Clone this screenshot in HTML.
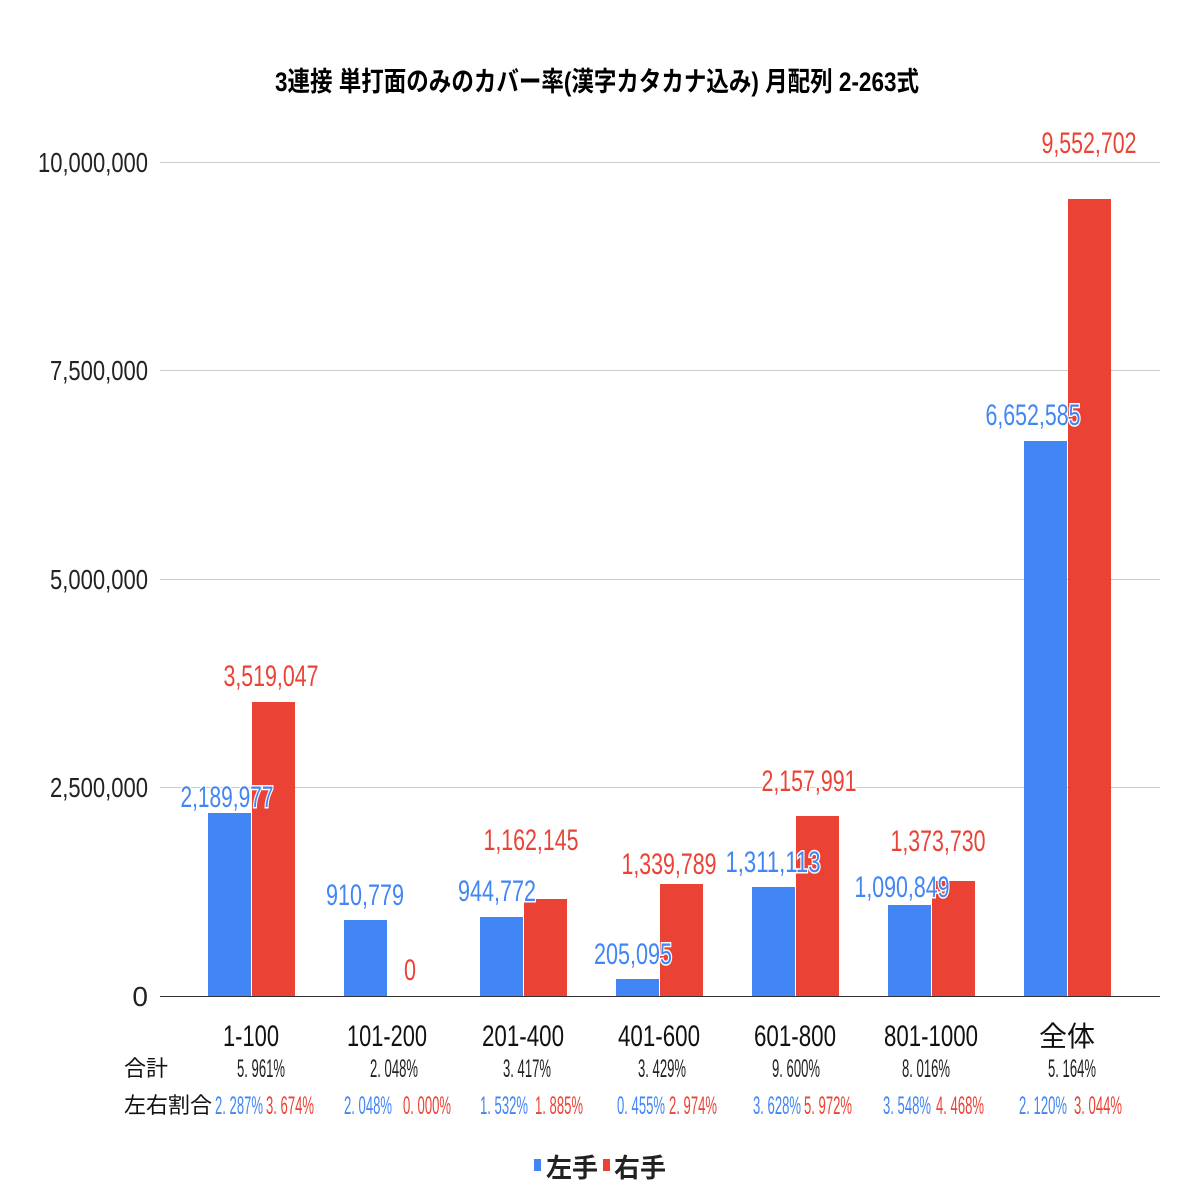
<!DOCTYPE html>
<html><head><meta charset="utf-8"><style>
html,body{margin:0;padding:0;background:#fff;}
svg text{font-family:"Liberation Sans Narrow","Liberation Sans","Noto Sans CJK JP",sans-serif;}
.j{font-family:"Liberation Sans","Noto Sans CJK JP",sans-serif !important;}
</style></head><body>
<svg width="1196" height="1196" xmlns="http://www.w3.org/2000/svg">
<rect width="1196" height="1196" fill="#fff"/>
<text x="597" y="91" text-anchor="middle" font-size="27" font-weight="bold" class="j" textLength="644" lengthAdjust="spacingAndGlyphs">3連接 単打面のみのカバー率(漢字カタカナ込み) 月配列 2-263式</text>
<g stroke="#ccc" stroke-width="1">
<line x1="160" y1="162.5" x2="1160" y2="162.5"/>
<line x1="160" y1="370.5" x2="1160" y2="370.5"/>
<line x1="160" y1="579.5" x2="1160" y2="579.5"/>
<line x1="160" y1="787.5" x2="1160" y2="787.5"/>
</g>
<g font-size="28" fill="#222" text-anchor="end">
<text x="148" y="172" textLength="110" lengthAdjust="spacingAndGlyphs">10,000,000</text>
<text x="148" y="380" textLength="98" lengthAdjust="spacingAndGlyphs">7,500,000</text>
<text x="148" y="589" textLength="98" lengthAdjust="spacingAndGlyphs">5,000,000</text>
<text x="148" y="797" textLength="98" lengthAdjust="spacingAndGlyphs">2,500,000</text>
<text x="148" y="1006">0</text>
</g>
<g fill="#4285f4">
<rect x="208" y="813" width="43" height="183"/>
<rect x="344" y="920" width="43" height="76"/>
<rect x="480" y="917" width="43" height="79"/>
<rect x="616" y="979" width="43" height="17"/>
<rect x="752" y="887" width="43" height="109"/>
<rect x="888" y="905" width="43" height="91"/>
<rect x="1024" y="441" width="43" height="555"/>
</g>
<g fill="#ea4335">
<rect x="252" y="702" width="43" height="294"/>
<rect x="524" y="899" width="43" height="97"/>
<rect x="660" y="884" width="43" height="112"/>
<rect x="796" y="816" width="43" height="180"/>
<rect x="932" y="881" width="43" height="115"/>
<rect x="1068" y="199" width="43" height="797"/>
</g>
<line x1="160" y1="996.5" x2="1160" y2="996.5" stroke="#333" stroke-width="1"/>
<g font-size="30" text-anchor="middle" stroke="#fff" stroke-width="3" paint-order="stroke">
<text x="227" y="807" fill="#4285f4" textLength="93" lengthAdjust="spacingAndGlyphs">2,189,977</text>
<text x="271" y="686" fill="#ea4335" textLength="95" lengthAdjust="spacingAndGlyphs">3,519,047</text>
<text x="365" y="905" fill="#4285f4" textLength="78" lengthAdjust="spacingAndGlyphs">910,779</text>
<text x="410" y="980" fill="#ea4335" textLength="12" lengthAdjust="spacingAndGlyphs">0</text>
<text x="497" y="901" fill="#4285f4" textLength="78" lengthAdjust="spacingAndGlyphs">944,772</text>
<text x="531" y="850" fill="#ea4335" textLength="95" lengthAdjust="spacingAndGlyphs">1,162,145</text>
<text x="633" y="964" fill="#4285f4" textLength="78" lengthAdjust="spacingAndGlyphs">205,095</text>
<text x="669" y="874" fill="#ea4335" textLength="95" lengthAdjust="spacingAndGlyphs">1,339,789</text>
<text x="773" y="872" fill="#4285f4" textLength="95" lengthAdjust="spacingAndGlyphs">1,311,113</text>
<text x="809" y="791" fill="#ea4335" textLength="95" lengthAdjust="spacingAndGlyphs">2,157,991</text>
<text x="902" y="897" fill="#4285f4" textLength="95" lengthAdjust="spacingAndGlyphs">1,090,849</text>
<text x="938" y="851" fill="#ea4335" textLength="95" lengthAdjust="spacingAndGlyphs">1,373,730</text>
<text x="1033" y="425" fill="#4285f4" textLength="95" lengthAdjust="spacingAndGlyphs">6,652,585</text>
<text x="1089" y="153" fill="#ea4335" textLength="95" lengthAdjust="spacingAndGlyphs">9,552,702</text>
</g>
<g font-size="30" fill="#111" text-anchor="middle">
<text x="251" y="1046" textLength="56" lengthAdjust="spacingAndGlyphs">1-100</text>
<text x="387" y="1046" textLength="80" lengthAdjust="spacingAndGlyphs">101-200</text>
<text x="523" y="1046" textLength="82" lengthAdjust="spacingAndGlyphs">201-400</text>
<text x="659" y="1046" textLength="82" lengthAdjust="spacingAndGlyphs">401-600</text>
<text x="795" y="1046" textLength="82" lengthAdjust="spacingAndGlyphs">601-800</text>
<text x="931" y="1046" textLength="94" lengthAdjust="spacingAndGlyphs">801-1000</text>
<text x="1067" y="1046" class="j" font-size="28">全体</text>
</g>
<g fill="#111">
<text x="124" y="1076" class="j" font-size="22">合計</text>
<text x="124" y="1113" class="j" font-size="22">左右割合</text>
</g>
<g font-size="25" fill="#222" text-anchor="middle">
<text x="261" y="1077" textLength="48" lengthAdjust="spacingAndGlyphs">5. 961%</text>
<text x="394" y="1077" textLength="48" lengthAdjust="spacingAndGlyphs">2. 048%</text>
<text x="527" y="1077" textLength="48" lengthAdjust="spacingAndGlyphs">3. 417%</text>
<text x="662" y="1077" textLength="48" lengthAdjust="spacingAndGlyphs">3. 429%</text>
<text x="796" y="1077" textLength="48" lengthAdjust="spacingAndGlyphs">9. 600%</text>
<text x="926" y="1077" textLength="48" lengthAdjust="spacingAndGlyphs">8. 016%</text>
<text x="1072" y="1077" textLength="48" lengthAdjust="spacingAndGlyphs">5. 164%</text>
</g>
<g font-size="25" text-anchor="middle">
<text x="239" y="1114" fill="#4285f4" textLength="48" lengthAdjust="spacingAndGlyphs">2. 287%</text>
<text x="290" y="1114" fill="#ea4335" textLength="48" lengthAdjust="spacingAndGlyphs">3. 674%</text>
<text x="368" y="1114" fill="#4285f4" textLength="48" lengthAdjust="spacingAndGlyphs">2. 048%</text>
<text x="427" y="1114" fill="#ea4335" textLength="48" lengthAdjust="spacingAndGlyphs">0. 000%</text>
<text x="504" y="1114" fill="#4285f4" textLength="48" lengthAdjust="spacingAndGlyphs">1. 532%</text>
<text x="559" y="1114" fill="#ea4335" textLength="48" lengthAdjust="spacingAndGlyphs">1. 885%</text>
<text x="641" y="1114" fill="#4285f4" textLength="48" lengthAdjust="spacingAndGlyphs">0. 455%</text>
<text x="693" y="1114" fill="#ea4335" textLength="48" lengthAdjust="spacingAndGlyphs">2. 974%</text>
<text x="777" y="1114" fill="#4285f4" textLength="48" lengthAdjust="spacingAndGlyphs">3. 628%</text>
<text x="828" y="1114" fill="#ea4335" textLength="48" lengthAdjust="spacingAndGlyphs">5. 972%</text>
<text x="907" y="1114" fill="#4285f4" textLength="48" lengthAdjust="spacingAndGlyphs">3. 548%</text>
<text x="960" y="1114" fill="#ea4335" textLength="48" lengthAdjust="spacingAndGlyphs">4. 468%</text>
<text x="1043" y="1114" fill="#4285f4" textLength="48" lengthAdjust="spacingAndGlyphs">2. 120%</text>
<text x="1098" y="1114" fill="#ea4335" textLength="48" lengthAdjust="spacingAndGlyphs">3. 044%</text>
</g>
<rect x="534" y="1159" width="7" height="12" fill="#4285f4"/>
<text x="546" y="1177" font-size="26" font-weight="bold" fill="#222" class="j">左手</text>
<rect x="603" y="1159" width="7" height="12" fill="#ea4335"/>
<text x="614" y="1177" font-size="26" font-weight="bold" fill="#222" class="j">右手</text>
</svg>
</body></html>
